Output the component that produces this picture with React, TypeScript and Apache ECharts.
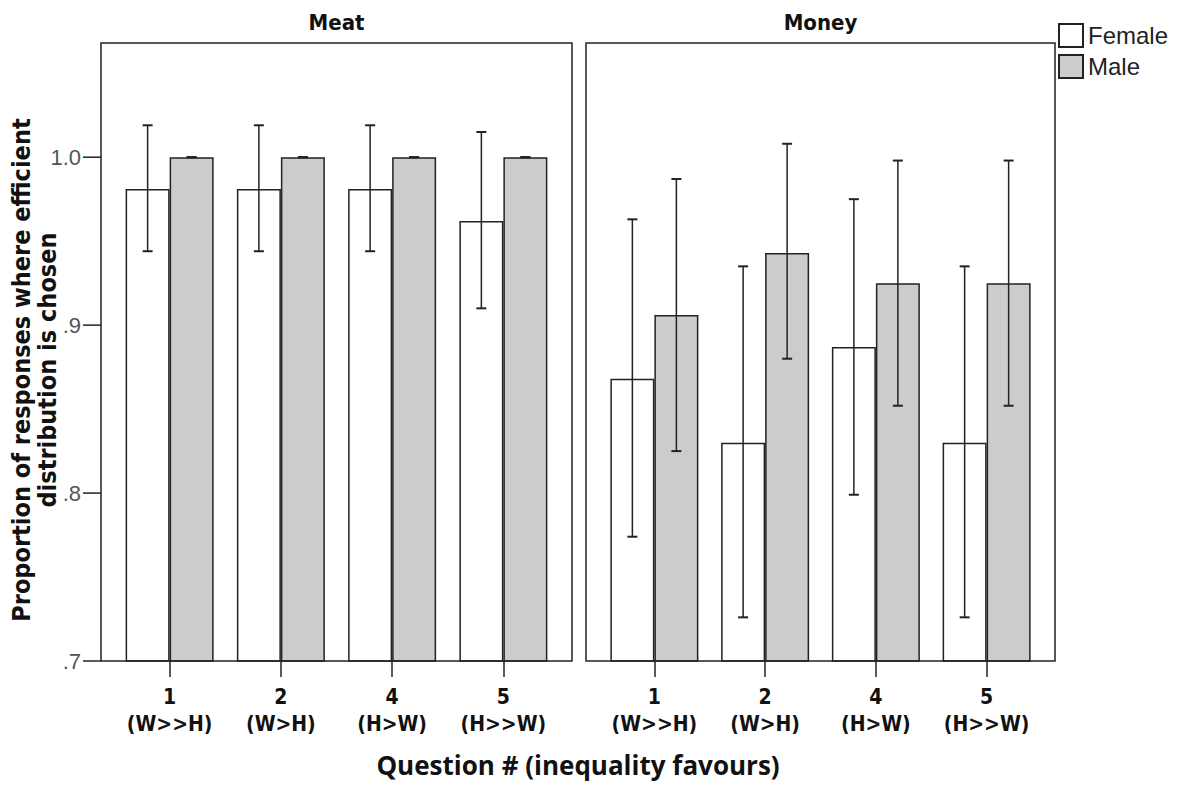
import React, { useEffect, useRef } from "react";
import * as echarts from "echarts";

const categories = ["1\n(W>>H)", "2\n(W>H)", "4\n(H>W)", "5\n(H>>W)"];
const panelTitles = ["Meat", "Money"];
const seriesNames = ["Female", "Male"];

const meatFemale = [0.981, 0.981, 0.981, 0.962];
const meatFemaleLow = [0.944, 0.944, 0.944, 0.91];
const meatFemaleHigh = [1.019, 1.019, 1.019, 1.015];
const meatMale = [1.0, 1.0, 1.0, 1.0];
const meatMaleLow = [1.0, 1.0, 1.0, 1.0];
const meatMaleHigh = [1.0, 1.0, 1.0, 1.0];

const moneyFemale = [0.868, 0.83, 0.887, 0.83];
const moneyFemaleLow = [0.774, 0.726, 0.799, 0.726];
const moneyFemaleHigh = [0.963, 0.935, 0.975, 0.935];
const moneyMale = [0.906, 0.943, 0.925, 0.925];
const moneyMaleLow = [0.825, 0.88, 0.852, 0.852];
const moneyMaleHigh = [0.987, 1.008, 0.998, 0.998];

const yTicks = [0.7, 0.8, 0.9, 1.0];
const yTickLabels = [".7", ".8", ".9", "1.0"];
const yMin = 0.7;
const yMax = 1.068;

const yTitle = "Proportion of responses where efficient\ndistribution is chosen";
const xTitle = "Question # (inequality favours)";

const DARK = "#222222";
const MALE_FILL = "#cccccc";
const BAR_W = 44;
const CAP = 5;
const TICK_LEN = 18;
const CAT_FONT = "'DejaVu Sans Condensed', 'DejaVu Sans', sans-serif";

// layout
const FRAME_TOP = 43;
const FRAME_H = 618;
const frames = [
  { x: 101, w: 471 },
  { x: 586, w: 469 },
];
const INSET = 13;

function errorSeries(idx: number, low: number[], high: number[], offset: number) {
  return {
    type: "custom",
    xAxisIndex: idx,
    yAxisIndex: idx,
    z: 10,
    silent: true,
    data: low.map((l, i) => [i, l, high[i]]),
    renderItem: (params: any, api: any) => {
      const lo = api.coord([api.value(0), api.value(1)]);
      const hi = api.coord([api.value(0), api.value(2)]);
      const x = lo[0] + offset;
      const style = { stroke: DARK, lineWidth: 1.5 };
      return {
        type: "group",
        children: [
          { type: "line", shape: { x1: x, y1: lo[1], x2: x, y2: hi[1] }, style },
          { type: "line", shape: { x1: x - CAP, y1: lo[1], x2: x + CAP, y2: lo[1] }, style: { stroke: DARK, lineWidth: 2 } },
          { type: "line", shape: { x1: x - CAP, y1: hi[1], x2: x + CAP, y2: hi[1] }, style: { stroke: DARK, lineWidth: 2 } },
        ],
      };
    },
  };
}

// y-axis tick marks on the left frame edge, placed through the y scale
function yTickSeries() {
  return {
    type: "custom",
    xAxisIndex: 0,
    yAxisIndex: 0,
    z: 10,
    silent: true,
    clip: false,
    data: yTicks.map((t) => [0, t]),
    renderItem: (params: any, api: any) => {
      const p = api.coord([0, api.value(1)]);
      const x0 = params.coordSys.x - INSET;
      return {
        type: "line",
        shape: { x1: x0 - TICK_LEN, y1: p[1], x2: x0, y2: p[1] },
        style: { stroke: DARK, lineWidth: 1.5 },
      };
    },
  };
}

function barSeries(idx: number, name: string, data: number[], fill: string) {
  return {
    type: "bar",
    name,
    xAxisIndex: idx,
    yAxisIndex: idx,
    data,
    barWidth: BAR_W,
    barGap: "0%",
    itemStyle: { color: fill, borderColor: DARK, borderWidth: 1.5 },
  };
}

export default function App() {
  const ref = useRef<HTMLDivElement>(null);
  useEffect(() => {
    if (!ref.current) return;
    const chart = echarts.init(ref.current, null, { renderer: "svg" });
    const grids = frames.map((f) => ({
      left: f.x + INSET,
      width: f.w - 2 * INSET,
      top: FRAME_TOP,
      height: FRAME_H,
      containLabel: false,
    }));
    const xAxes = frames.map((_, i) => ({
      type: "category",
      gridIndex: i,
      data: categories,
      axisLine: { show: false },
      axisTick: { show: true, alignWithLabel: true, length: 16, lineStyle: { color: DARK, width: 1.5 } },
      axisLabel: {
        margin: 22,
        interval: 0,
        fontFamily: CAT_FONT,
        fontWeight: "bold",
        fontSize: 21,
        lineHeight: 27,
        color: "#111",
      },
    }));
    const yAxes = frames.map((_, i) => ({
      type: "value",
      gridIndex: i,
      min: yMin,
      max: yMax,
      interval: 0.1,
      axisLine: { show: false },
      splitLine: { show: false },
      axisTick: { show: false },
      axisLabel: {
        show: i === 0,
        margin: INSET + TICK_LEN + 2,
        fontFamily: "'Liberation Sans', Arial, sans-serif",
        fontSize: 22,
        color: "#555",
        formatter: (v: number) => {
          const k = yTicks.findIndex((t) => Math.abs(t - v) < 1e-6);
          return k >= 0 ? yTickLabels[k] : "";
        },
      },
    }));
    const series: any[] = [
      barSeries(0, seriesNames[0], meatFemale, "#ffffff"),
      barSeries(0, seriesNames[1], meatMale, MALE_FILL),
      barSeries(1, seriesNames[0], moneyFemale, "#ffffff"),
      barSeries(1, seriesNames[1], moneyMale, MALE_FILL),
      errorSeries(0, meatFemaleLow, meatFemaleHigh, -BAR_W / 2),
      errorSeries(0, meatMaleLow, meatMaleHigh, BAR_W / 2),
      errorSeries(1, moneyFemaleLow, moneyFemaleHigh, -BAR_W / 2),
      errorSeries(1, moneyMaleLow, moneyMaleHigh, BAR_W / 2),
      yTickSeries(),
    ];
    const graphic: any[] = [];
    frames.forEach((f, i) => {
      graphic.push({
        type: "rect",
        z: 100,
        silent: true,
        shape: { x: f.x, y: FRAME_TOP, width: f.w, height: FRAME_H },
        style: { fill: "none", stroke: DARK, lineWidth: 1.5 },
      });
      graphic.push({
        type: "text",
        x: f.x + f.w / 2,
        y: 22,
        style: {
          text: panelTitles[i],
          textAlign: "center",
          textVerticalAlign: "middle",
          font: `bold 22px ${CAT_FONT}`,
          fill: "#111",
        },
      });
    });
    graphic.push({
      type: "text",
      x: 34,
      y: 370,
      rotation: Math.PI / 2,
      style: {
        text: yTitle,
        textAlign: "center",
        textVerticalAlign: "middle",
        font: `bold 25px ${CAT_FONT}`,
        lineHeight: 26,
        fill: "#111",
      },
    });
    graphic.push({
      type: "text",
      x: 578,
      y: 765,
      style: {
        text: xTitle,
        textAlign: "center",
        textVerticalAlign: "middle",
        font: "bold 26px 'Open Sans', sans-serif",
        fill: "#111",
      },
    });
    chart.setOption({
      animation: false,
      backgroundColor: "#ffffff",
      grid: grids,
      xAxis: xAxes,
      yAxis: yAxes,
      legend: {
        data: seriesNames,
        orient: "vertical",
        left: 1058,
        top: 23,
        padding: 0,
        itemWidth: 24,
        itemHeight: 23,
        itemGap: 6,
        icon: "rect",
        textStyle: { fontFamily: "'Liberation Sans', Arial, sans-serif", fontSize: 24, color: "#222" },
      },
      series,
      graphic,
    });
    return () => chart.dispose();
  }, []);
  return <div ref={ref} style={{ width: 1177, height: 785, position: "absolute", left: 0, top: 0 }} />;
}
